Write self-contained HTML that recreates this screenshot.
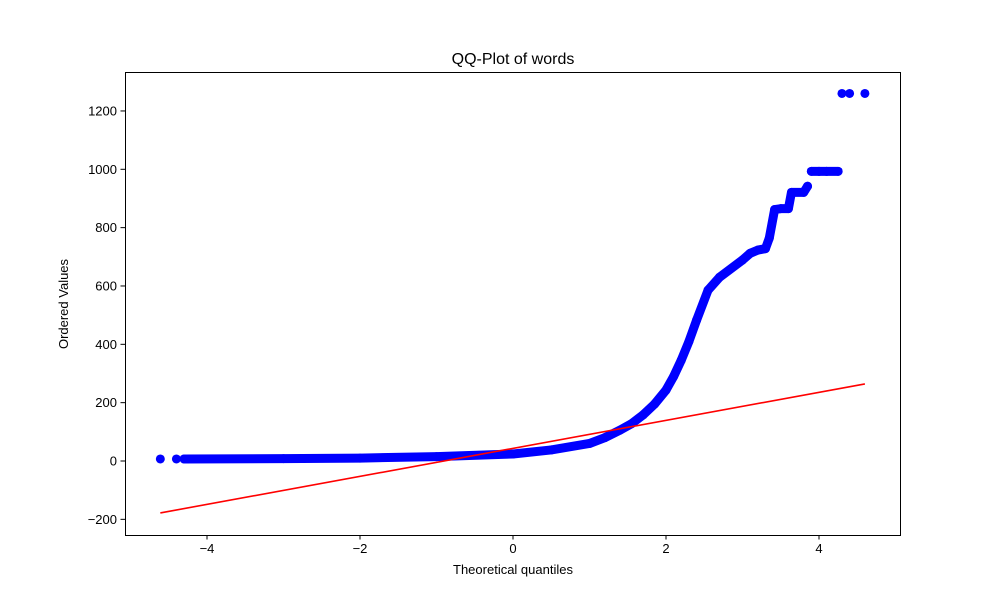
<!DOCTYPE html>
<html><head><meta charset="utf-8"><style>
body{margin:0;background:#fff}
svg text{font-family:"Liberation Sans",sans-serif;font-size:13px;fill:#000}
</style></head><body>
<svg id="chart" width="1000" height="600">
<rect width="1000" height="600" fill="#fff"/>
<text x="513" y="64" text-anchor="middle" style="font-size:16px">QQ-Plot of words</text>
<g id="marks"></g>
<rect x="125.5" y="72.5" width="775" height="463" fill="none" stroke="#000" stroke-width="1"/>
<g id="axes"></g>
<text x="513" y="574" text-anchor="middle">Theoretical quantiles</text>
<text transform="translate(68,304) rotate(-90)" text-anchor="middle">Ordered Values</text>
</svg>
<script>
const quantiles=[-4.61,-4.40,-4.3,-3,-2,-1,0,0.5,1,1.2,1.4,1.55,1.7,1.85,2,2.1,2.2,2.3,2.4,2.55,2.7,3,3.1,3.2,3.3,3.35,3.42,3.5,3.6,3.64,3.8,3.85,3.9,4.0,4.1,4.25,4.3,4.4,4.6];
const values=[7,7,7,8,10,15,24,38,60,80,106,128,158,195,243,290,346,410,483,586,630,689,712,723,728,764,862,865,865,921,921,942,993,993,993,993,1260,1260,1260];
const fitSlope=48, fitIntercept=43.3;
const xTicks=[-4,-2,0,2,4];
const yTicks=[-200,0,200,400,600,800,1000,1200];
const X=q=>513+76.5*q, Y=v=>461-0.2917*v;
const ns="http://www.w3.org/2000/svg";
const marks=document.getElementById('marks'), axes=document.getElementById('axes');
function mk(t,a,p){const e=document.createElementNS(ns,t);for(const k in a)e.setAttribute(k,a[k]);p.appendChild(e);return e;}
const contEnd=quantiles.indexOf(3.85)+1;
let d='';
for(let i=2;i<contEnd;i++){d+=(i===2?'M':'L')+X(quantiles[i])+','+Y(values[i]);}
const band=mk('path',{d:d,fill:'none',stroke:'#0000ff','stroke-width':9,'stroke-linecap':'round','stroke-linejoin':'round'},marks);


for(let i=contEnd;i<quantiles.length-1;i++){
  if(values[i+1]===values[i]&&quantiles[i]<4.3){
    const s=mk('line',{x1:X(quantiles[i]),y1:Y(values[i]),x2:X(quantiles[i+1]),y2:Y(values[i+1]),stroke:'#0000ff','stroke-width':9,'stroke-linecap':'round'},marks);
    
    
  }
}
for(let i=0;i<quantiles.length;i++){
  const c=mk('circle',{cx:X(quantiles[i]),cy:Y(values[i]),r:4.5,fill:'#0000ff'},marks);
  
  
}
const q0=quantiles[0],q1=quantiles[quantiles.length-1];
const fl=mk('line',{x1:X(q0),y1:Y(fitIntercept+fitSlope*q0),x2:X(q1),y2:Y(fitIntercept+fitSlope*q1),stroke:'#ff0000','stroke-width':1.6},marks);


xTicks.forEach(t=>{
  const l=mk('line',{x1:X(t),x2:X(t),y1:535,y2:539.5,stroke:'#000'},axes);
  
  
  const tx=mk('text',{x:X(t),y:553,'text-anchor':'middle'},axes);
  tx.textContent=t<0?'\u2212'+Math.abs(t):t;
  
  
});
yTicks.forEach(t=>{
  const l=mk('line',{x1:120.5,x2:125,y1:Y(t),y2:Y(t),stroke:'#000'},axes);
  
  
  const tx=mk('text',{x:117,y:Y(t)+4.5,'text-anchor':'end'},axes);
  tx.textContent=t<0?'\u2212'+Math.abs(t):t;
  
  
});
</script>
</body></html>
